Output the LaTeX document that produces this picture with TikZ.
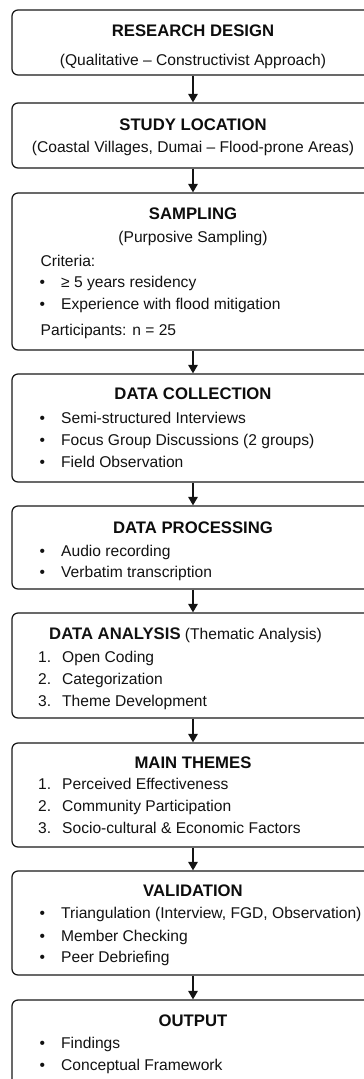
\documentclass[tikz,border=0pt]{standalone}
\usepackage{fontspec}
\setmainfont{Liberation Sans}
\usetikzlibrary{arrows.meta}
% bullet and numbered list entries with a fixed hanging indent
\newcommand\bl[1]{\makebox[21.5pt][l]{•}#1}
\newcommand\nm[2]{\makebox[24pt][l]{#1.}#2}
\begin{document}
\begin{tikzpicture}[x=1pt,y=-1pt,
  box/.style={draw=black!90, line width=1.25pt, rounded corners=6pt,
              minimum width=362pt, inner sep=0pt, fill=white},
  ttl/.style={font=\fontsize{16.7}{20}\selectfont\bfseries, text=black!95,
              anchor=base, inner sep=0pt},
  txt/.style={font=\fontsize{15.6}{19}\selectfont, text=black!93,
              anchor=base west, inner sep=0pt},
  sub/.style={txt, anchor=base},
  flow/.style={draw=black!92, line width=1.5pt,
               -{Triangle[length=8.5pt,width=9.5pt]}}]
\useasboundingbox (0,0) rectangle (364,1079);
\clip (0,0) rectangle (364,1079);

% stage boxes
\node[box, minimum height=65pt]  (design)  at (193,42.5)  {};
\node[box, minimum height=65pt]  (loc)     at (193,135.5) {};
\node[box, minimum height=157pt] (samp)    at (193,271.5) {};
\node[box, minimum height=108pt] (coll)    at (193,428)   {};
\node[box, minimum height=83pt]  (proc)    at (193,547.5) {};
\node[box, minimum height=105pt] (anal)    at (193,665.5) {};
\node[box, minimum height=104pt] (themes)  at (193,795)   {};
\node[box, minimum height=104pt] (valid)   at (193,923)   {};
\node[box, minimum height=110pt] (out)     at (193,1055)  {};

% connectors
\draw[flow] (design.south) -- (loc.north);
\draw[flow] (loc.south)    -- (samp.north);
\draw[flow] (samp.south)   -- (coll.north);
\draw[flow] (coll.south)   -- (proc.north);
\draw[flow] (proc.south)   -- (anal.north);
\draw[flow] (anal.south)   -- (themes.north);
\draw[flow] (themes.south) -- (valid.north);
\draw[flow] (valid.south)  -- (out.north);

% research design
\node[ttl] (t1) at (193,36) {RESEARCH DESIGN};
\node[sub] (s1) at (193,65) {(Qualitative – Constructivist Approach)};

% study location
\node[ttl] (t2) at (193,130) {STUDY LOCATION};
\node[sub] (s2) at (193,152.5) {(Coastal Villages, Dumai – Flood-prone Areas)};

% sampling
\node[ttl] (t3) at (193,219) {SAMPLING};
\node[sub] (s3) at (193,242) {(Purposive Sampling)};
\node[txt] (s3a) at (40.5,266) {Criteria:};
\node[txt] (s3b) at (39.5,287) {\bl{≥ 5 years residency}};
\node[txt] (s3c) at (39.5,309) {\bl{Experience with flood mitigation}};
\node[txt] (s3d) at (40.5,335) {Participants: n = 25};

% data collection
\node[ttl] (t4) at (193,399) {DATA COLLECTION};
\node[txt] (s4a) at (39.5,423) {\bl{Semi-structured Interviews}};
\node[txt] (s4b) at (39.5,445) {\bl{Focus Group Discussions (2 groups)}};
\node[txt] (s4c) at (39.5,467) {\bl{Field Observation}};

% data processing
\node[ttl] (t5) at (193,533) {DATA PROCESSING};
\node[txt] (s5a) at (39.5,556) {\bl{Audio recording}};
\node[txt] (s5b) at (39.5,577) {\bl{Verbatim transcription}};

% data analysis
\node[txt] (t6) at (49,639) {\fontsize{16.7}{20}\selectfont\bfseries DATA ANALYSIS\mdseries\fontsize{15.6}{19}\selectfont{} (Thematic Analysis)};
\node[txt] (s6a) at (38,662) {\nm{1}{Open Coding}};
\node[txt] (s6b) at (38,684) {\nm{2}{Categorization}};
\node[txt] (s6c) at (38,706) {\nm{3}{Theme Development}};

% main themes
\node[ttl] (t7) at (193,768) {MAIN THEMES};
\node[txt] (s7a) at (38,789) {\nm{1}{Perceived Effectiveness}};
\node[txt] (s7b) at (38,811) {\nm{2}{Community Participation}};
\node[txt] (s7c) at (38,833) {\nm{3}{Socio-cultural \& Economic Factors}};

% validation
\node[ttl] (t8) at (193,896) {VALIDATION};
\node[txt] (s8a) at (39.5,918) {\bl{Triangulation (Interview, FGD, Observation)}};
\node[txt] (s8b) at (39.5,941) {\bl{Member Checking}};
\node[txt] (s8c) at (39.5,962) {\bl{Peer Debriefing}};

% output
\node[ttl] (t9) at (193,1026) {OUTPUT};
\node[txt] (s9a) at (39.5,1048) {\bl{Findings}};
\node[txt] (s9b) at (39.5,1070) {\bl{Conceptual Framework}};
\end{tikzpicture}
\end{document}
